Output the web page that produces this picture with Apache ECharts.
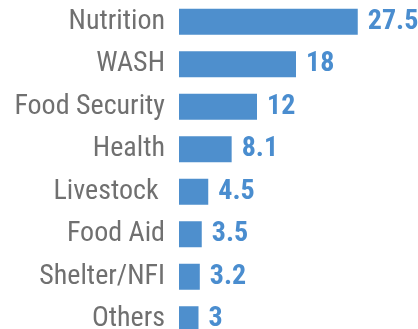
<!DOCTYPE html>
<html><head><meta charset="utf-8">
<script src="https://cdn.jsdelivr.net/npm/echarts@6/dist/echarts.min.js"></script>
<style>html,body{margin:0;padding:0;background:#fff}#c{width:418px;height:329px}</style>
</head><body><div id="c"></div>
<script>
// Funding by sector
const sectors = ["Nutrition", "WASH", "Food Security", "Health", "Livestock ", "Food Aid", "Shelter/NFI", "Others"];
const amounts = [27.5, 18, 12, 8.1, 4.5, 3.5, 3.2, 3];

const chart = echarts.init(document.getElementById('c'));
chart.setOption({
  animation: false,
  grid: { left: 179, right: 44, top: 0.5, height: 340, containLabel: false, outerBoundsMode: 'none' },
  xAxis: {
    type: 'value', min: 0, max: 30, show: false
  },
  yAxis: {
    type: 'category', data: sectors, inverse: true,
    axisLine: { show: false }, axisTick: { show: false },
    axisLabel: {
      margin: 14, color: '#707070',
      fontFamily: 'Roboto Condensed', fontSize: 28
    }
  },
  series: [{
    type: 'bar', data: amounts, barWidth: 26,
    itemStyle: { color: '#4E8FCD' },
    label: {
      show: true, position: 'right', distance: 10,
      color: '#4A8DCF', fontFamily: 'Roboto Condensed',
      fontWeight: 'bold', fontSize: 28
    }
  }]
});
</script></body></html>
